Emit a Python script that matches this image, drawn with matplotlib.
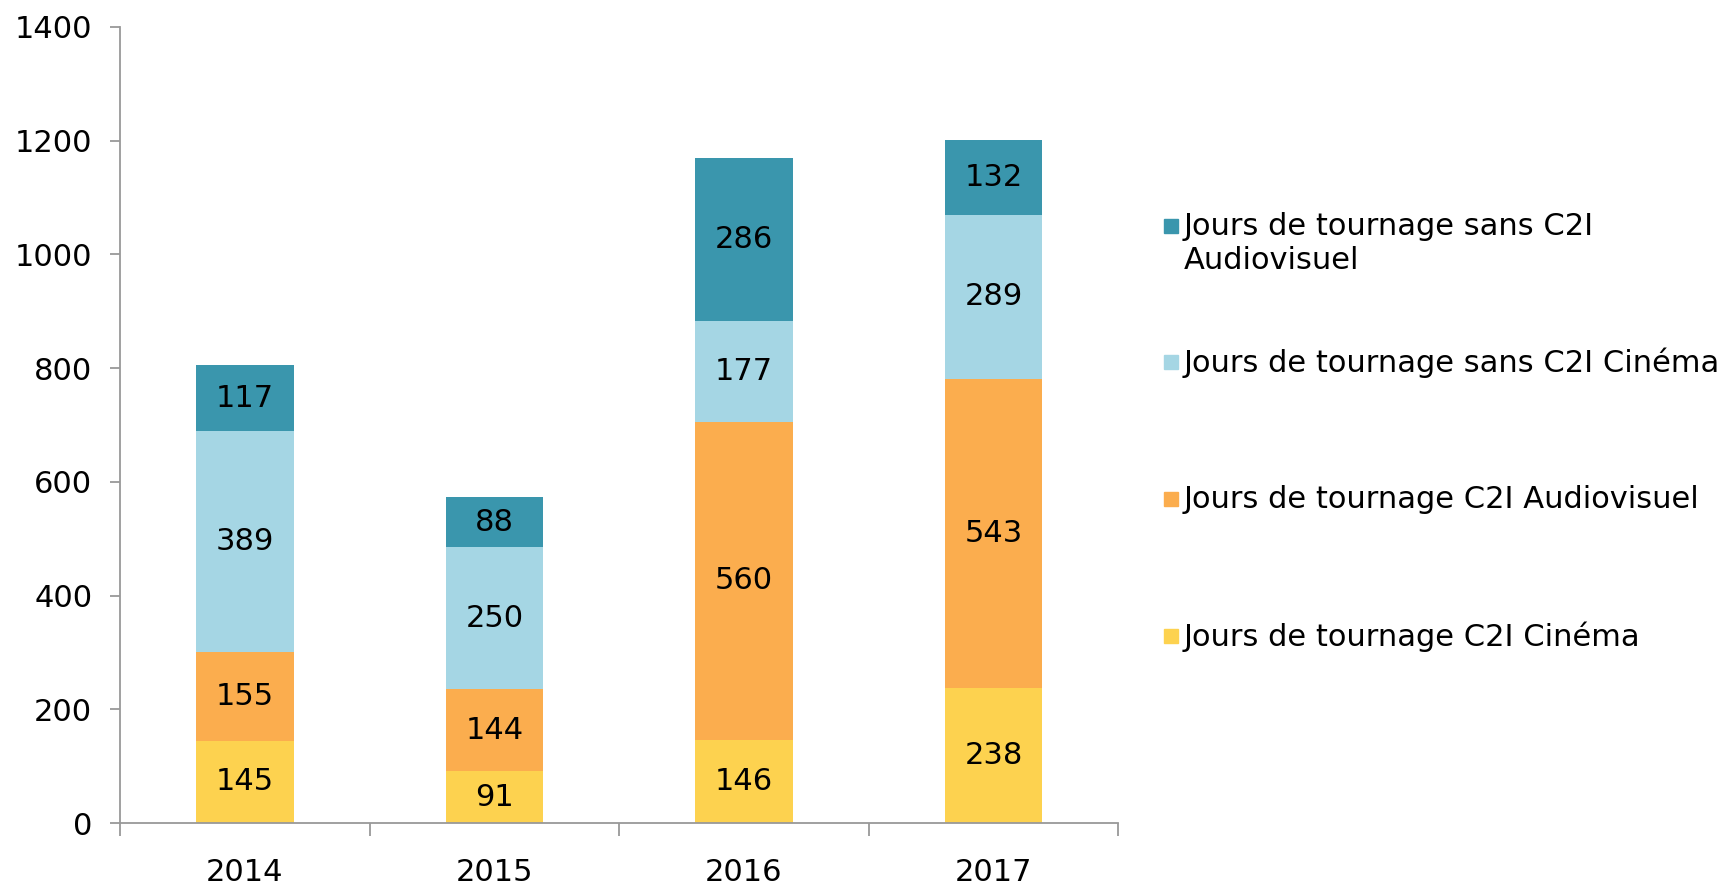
import numpy as np
import matplotlib
matplotlib.use('Agg')
import matplotlib.pyplot as plt
from matplotlib.patches import Rectangle

plt.rcParams['font.family'] = ['DejaVu Sans']

years = ['2014', '2015', '2016', '2017']
c2i_cinema = [145, 91, 146, 238]
c2i_audiovisuel = [155, 144, 560, 543]
sans_c2i_cinema = [389, 250, 177, 289]
sans_c2i_audiovisuel = [117, 88, 286, 132]

series = [
    ('Jours de tournage C2I Cinéma', c2i_cinema, '#FDD24F'),
    ('Jours de tournage C2I Audiovisuel', c2i_audiovisuel, '#FBAD4E'),
    ('Jours de tournage sans C2I Cinéma', sans_c2i_cinema, '#A5D6E4'),
    ('Jours de tournage sans C2I\nAudiovisuel', sans_c2i_audiovisuel, '#3A96AD'),
]

W, H = 1730, 885
fs = 22
fig = plt.figure(figsize=(W / 100, H / 100), dpi=100)
ax = fig.add_axes([0.0694, 0.070, 0.577, 0.8995])

x = np.arange(len(years))
bottom = np.zeros(len(years))
for name, vals, col in series:
    vals = np.array(vals)
    ax.bar(x, vals, 0.39, bottom=bottom, color=col, zorder=2)
    for xi, b, v in zip(x, bottom, vals):
        ax.text(xi, b + v / 2, str(v), ha='center', va='center', fontsize=fs, color='black')
    bottom = bottom + vals

ax.set_xlim(-0.5, 3.5)
ax.set_ylim(0, 1400)
ax.set_yticks(range(0, 1401, 200))
ax.tick_params(axis='y', labelsize=fs, length=7, color='#999999', width=1.3, pad=13)
ax.set_xticks(x)
ax.set_xticklabels(years)
ax.tick_params(axis='x', which='major', length=0, labelsize=fs, pad=25)
ax.set_xticks(np.arange(-0.5, 3.6, 1), minor=True)
ax.tick_params(axis='x', which='minor', length=9, color='#999999', width=1.3)

for s in ['top', 'right']:
    ax.spines[s].set_visible(False)
for s in ['left', 'bottom']:
    ax.spines[s].set_color('#999999')
    ax.spines[s].set_linewidth(1.3)

# legend, Excel style: evenly spaced entries, marker on first line
leg_y = [227, 363, 500, 637]
for (name, vals, col), yy in zip(series[::-1], leg_y):
    fig.patches.append(Rectangle((1164 / W, 1 - (yy + 6) / H), 14 / W, 14 / H,
                                 transform=fig.transFigure, color=col))
    fig.text(1184 / W, 1 - (yy - 15) / H, name, ha='left', va='top',
             fontsize=fs, linespacing=1.2)

fig.savefig('out.png', dpi=100)
